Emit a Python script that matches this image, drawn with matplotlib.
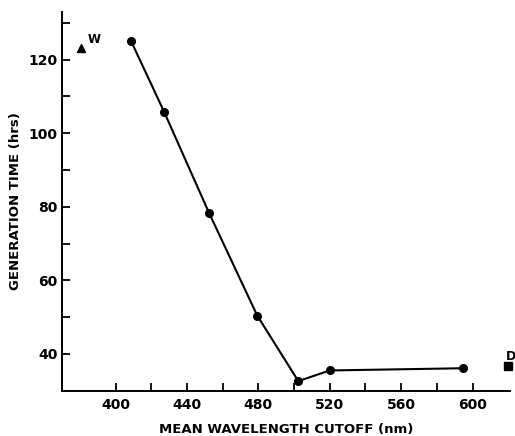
import matplotlib.pyplot as plt
from matplotlib.ticker import FixedLocator

# mean wavelength cutoff (nm) vs generation time (hrs)
cutoff = [408.8, 427.2, 452.3, 479.4, 502.4, 520.0, 594.4]
gen_time = [124.9, 105.8, 78.4, 50.4, 32.6, 35.5, 36.1]

# white light and dark controls
white_x, white_y = [380.6], [123.0]
dark_x, dark_y = [620.0], [36.6]

x_major = [400, 440, 480, 520, 560, 600]
x_minor = [420, 460, 500, 540, 580]
y_major = [40, 60, 80, 100, 120]
y_minor = [50, 70, 90, 110, 130]

plt.rcParams['font.family'] = 'DejaVu Sans'
plt.rcParams['font.weight'] = 'bold'

fig = plt.figure(figsize=(5.15, 4.36), dpi=100)
ax = fig.add_axes([0.1204, 0.1039, 0.8699, 0.8693])

ax.plot(cutoff, gen_time, color='black', linewidth=1.5, marker='o', markersize=5.5)
ax.plot(white_x, white_y, color='black', marker='^', markersize=5.5, linestyle='none')
ax.plot(dark_x, dark_y, color='black', marker='s', markersize=5.5, linestyle='none', clip_on=False)
ax.text(white_x[0] + 3.5, white_y[0] + 1.5, 'W', fontsize=8.5, fontweight='bold')
ax.text(dark_x[0] - 1.5, dark_y[0] + 1.8, 'D', fontsize=9, fontweight='bold', clip_on=False)

ax.set_xlim(370, 621)
ax.set_ylim(30, 133)
ax.set_xticks(x_major)
ax.set_yticks(y_major)
ax.xaxis.set_minor_locator(FixedLocator(x_minor))
ax.yaxis.set_minor_locator(FixedLocator(y_minor))

ax.spines['top'].set_visible(False)
ax.spines['right'].set_visible(False)
for s in ['left', 'bottom']:
    ax.spines[s].set_linewidth(1.4)

ax.tick_params(which='both', direction='in', length=6, width=1.3, labelsize=10)
ax.tick_params(axis='x', pad=5)
ax.tick_params(axis='y', pad=3)

ax.set_xlabel('MEAN WAVELENGTH CUTOFF (nm)', fontsize=9.5, fontweight='bold', labelpad=8)
ax.set_ylabel('GENERATION TIME (hrs)', fontsize=9.5, fontweight='bold', labelpad=5)

fig.savefig('out.png', dpi=100)
